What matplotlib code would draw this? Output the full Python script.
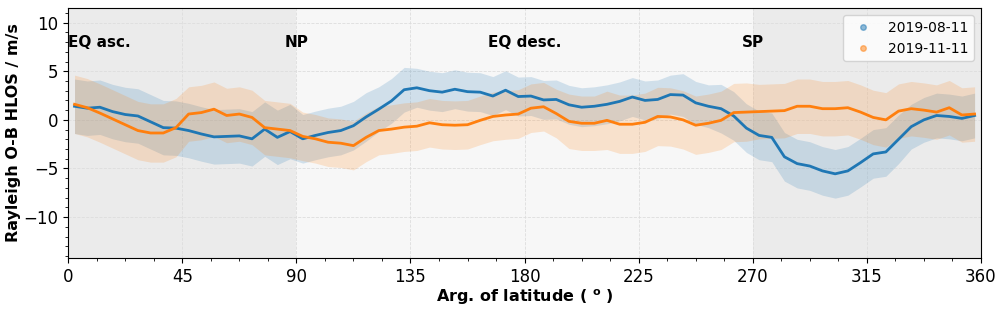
import numpy as np
import matplotlib
matplotlib.use('Agg')
import matplotlib.pyplot as plt
from matplotlib.lines import Line2D
from matplotlib.ticker import MultipleLocator

# bin centres (deg), running mean of O-B per 5 deg bin
arg_lat = np.arange(2.5, 360, 5.0)

mean_aug = [1.4, 1.2, 1.3, 0.85, 0.55, 0.4, -0.2, -0.8, -0.85, -1.1, -1.45, -1.75,
            -1.7, -1.65, -1.95, -0.95, -1.8, -1.2, -1.95, -1.6, -1.3, -1.1, -0.6, 0.3,
            1.1, 1.95, 3.1, 3.3, 3.0, 2.85, 3.15, 2.9, 2.85, 2.45, 3.05, 2.4,
            2.45, 2.05, 2.1, 1.55, 1.3, 1.4, 1.6, 1.9, 2.35, 2.0, 2.1, 2.6,
            2.55, 1.75, 1.4, 1.15, 0.4, -0.85, -1.6, -1.8, -3.8, -4.5, -4.75, -5.25,
            -5.55, -5.25, -4.4, -3.5, -3.3, -2.0, -0.7, 0.0, 0.45, 0.35, 0.15, 0.45]

mean_nov = [1.6, 1.25, 0.7, 0.1, -0.5, -1.1, -1.35, -1.35, -0.8, 0.6, 0.75, 1.1,
            0.45, 0.6, 0.25, -0.8, -0.95, -1.1, -1.7, -1.95, -2.3, -2.4, -2.65, -1.8,
            -1.1, -0.95, -0.75, -0.65, -0.3, -0.5, -0.55, -0.5, -0.05, 0.35, 0.5, 0.6,
            1.2, 1.35, 0.65, -0.15, -0.35, -0.35, -0.05, -0.45, -0.45, -0.25, 0.35, 0.3,
            0.0, -0.55, -0.35, -0.05, 0.75, 0.8, 0.85, 0.9, 0.95, 1.4, 1.4, 1.15,
            1.15, 1.25, 0.8, 0.25, 0.0, 0.9, 1.15, 1.0, 0.8, 1.25, 0.5, 0.6]

# approximate half-width of the point cloud, per 15 deg
spread_aug = [2.8, 2.8, 2.8, 2.8, 2.8, 2.8, 2.5, 2.5, 2.3, 2.0, 2.0, 2.0,
              2.0, 2.0, 2.0, 2.0, 2.2, 2.5, 2.5, 2.5, 2.5, 2.5, 2.3, 2.3]
spread_nov = [3.0, 3.0, 3.0, 2.8, 2.8, 2.8, 2.5, 2.5, 2.5, 2.5, 2.5, 2.5,
              2.5, 2.8, 3.0, 3.0, 3.0, 3.0, 2.8, 2.8, 2.8, 2.8, 2.8, 2.8]

dates = ['2019-08-11', '2019-11-11']
regions = ['EQ asc.', 'NP', 'EQ desc.', 'SP']
region_x = [0, 90, 180, 270]

c_aug = '#1f77b4'
c_nov = '#ff7f0e'

fig = plt.figure(figsize=(10.03, 3.1), dpi=100)
ax = fig.add_axes([0.068, 0.168, 0.910, 0.806])

ax.axvspan(0, 90, color='#ebebeb', zorder=0, lw=0)
ax.axvspan(90, 270, color='#f7f7f7', zorder=0, lw=0)
ax.axvspan(270, 360, color='#ebebeb', zorder=0, lw=0)

for mean, spread, c in [(mean_aug, spread_aug, c_aug), (mean_nov, spread_nov, c_nov)]:
    m = np.array(mean)
    s = np.repeat(spread, 3)
    ax.fill_between(arg_lat, m - s, m + s, color=c, alpha=0.18, lw=0, zorder=1)

ax.plot(arg_lat, mean_aug, color=c_aug, lw=2, zorder=3)
ax.plot(arg_lat, mean_nov, color=c_nov, lw=2, zorder=3)

for name, xr in zip(regions, region_x):
    ax.text(xr, 8.0, name, fontsize=11, fontweight='bold',
            ha='left' if xr == 0 else 'center', va='center', zorder=4)

ax.set_xlim(0, 360)
ax.set_ylim(-14.2, 11.5)
ax.set_xticks(np.arange(0, 361, 45))
ax.xaxis.set_minor_locator(MultipleLocator(11.25))
ax.yaxis.set_major_locator(MultipleLocator(5))
ax.yaxis.set_minor_locator(MultipleLocator(1))
ax.tick_params(labelsize=12)
ax.grid(True, which='major', ls='--', color='#dddddd', lw=0.6, zorder=0.5)
ax.set_axisbelow(True)

ax.set_xlabel(r'Arg. of latitude ( $^\mathbf{o}$ )', fontsize=11.5,
              fontweight='bold', labelpad=1)
ax.set_ylabel('Rayleigh O-B HLOS / m/s', fontsize=11.5, fontweight='bold',
              labelpad=2)

handles = [Line2D([], [], ls='', marker='o', ms=4, color=c_aug, alpha=0.5),
           Line2D([], [], ls='', marker='o', ms=4, color=c_nov, alpha=0.5)]
ax.legend(handles, dates, loc='upper right', fontsize=10)

fig.savefig('out.png', dpi=100)
